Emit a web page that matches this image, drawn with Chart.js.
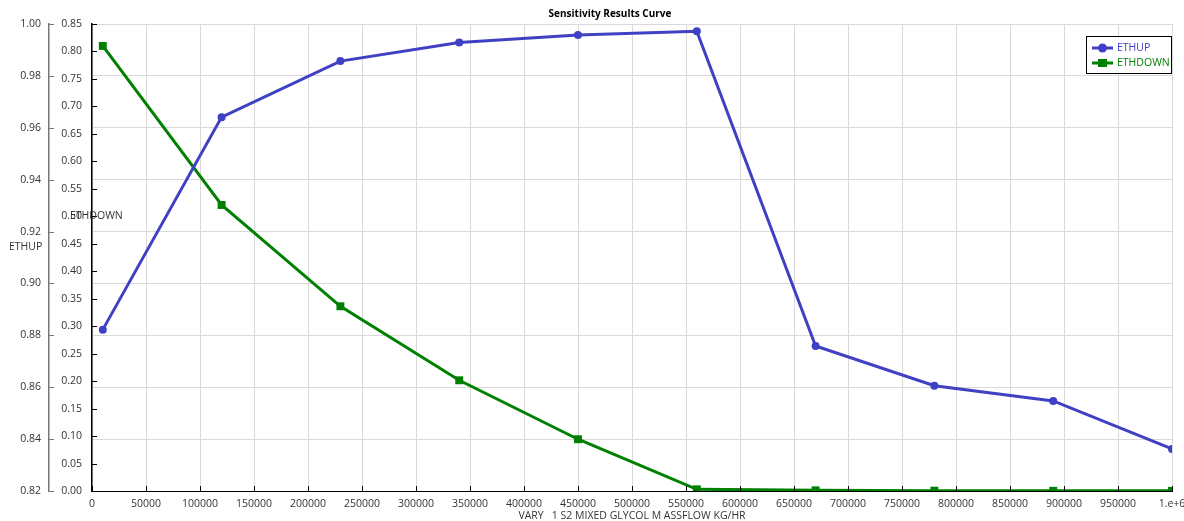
<!DOCTYPE html>
<html>
<head>
<meta charset="utf-8">
<title>Sensitivity Results Curve</title>
<script src="https://cdn.jsdelivr.net/npm/chart.js@4/dist/chart.umd.min.js"></script>
<style>
  html, body { margin: 0; padding: 0; background: #fff; }
  #wrap { width: 1184px; height: 521px; position: relative; }
</style>
</head>
<body>
<div id="wrap"><canvas id="c" width="1184" height="521"></canvas></div>
<script>
// Mass flow of the varied stream (kg/hr)
const flows = [10000, 120000, 230000, 340000, 450000, 560000, 670000, 780000, 890000, 1000000];
// Sensitivity results
const ethUp   = [0.8822, 0.9641, 0.9857, 0.9929, 0.9958, 0.9972, 0.8759, 0.8606, 0.8547, 0.8362];
const ethDown = [0.810, 0.5206, 0.3362, 0.2015, 0.0942, 0.0031, 0.0012, 0.0006, 0.0004, 0.0003];

// Axis ranges and tick steps
const xRange = [0, 1000000], xStep = 50000;
const upRange = [0.82, 1.00], upStep = 0.02;
const downRange = [0, 0.85], downStep = 0.05;

const titleText = 'Sensitivity Results Curve';
const xTitle = 'VARY   1 S2 MIXED GLYCOL M ASSFLOW KG/HR';
const seriesNames = ['ETHUP', 'ETHDOWN'];

const FONT = '"Open Sans", "Noto Sans", sans-serif';
const BLUE = '#4040C4';
const GREEN = '#008000';
const TXT = '#333333';

function pts(ys) { return flows.map((x, i) => ({ x: x, y: ys[i] })); }

// Extra drawing: inward tick marks, titles, and the boxed legend
const decor = {
  id: 'decor',
  afterDraw(chart) {
    const ctx = chart.ctx;
    const ca = chart.chartArea;
    const sx = chart.scales.x, su = chart.scales.yUp, sd = chart.scales.yDown;
    ctx.save();
    // tick marks pointing inward
    ctx.lineWidth = 1;
    ctx.strokeStyle = '#777';
    su.ticks.forEach(t => {
      const y = Math.round(su.getPixelForValue(t.value)) + 0.5;
      ctx.beginPath(); ctx.moveTo(su.right, y); ctx.lineTo(su.right + 5, y); ctx.stroke();
    });
    ctx.strokeStyle = '#000';
    sd.ticks.forEach(t => {
      const y = Math.round(sd.getPixelForValue(t.value)) + 0.5;
      ctx.beginPath(); ctx.moveTo(sd.right, y); ctx.lineTo(sd.right + 5, y); ctx.stroke();
    });
    sx.ticks.forEach(t => {
      const x = Math.round(sx.getPixelForValue(t.value)) + 0.5;
      ctx.beginPath(); ctx.moveTo(x, ca.bottom); ctx.lineTo(x, ca.bottom - 5); ctx.stroke();
    });

    // chart title
    ctx.fillStyle = '#000';
    ctx.font = 'bold 10px ' + FONT;
    ctx.textAlign = 'center';
    ctx.textBaseline = 'middle';
    ctx.fillText(titleText, 610, 14);

    // axis titles
    ctx.fillStyle = TXT;
    ctx.font = '10.5px ' + FONT;
    ctx.fillText(xTitle, (ca.left + ca.right) / 2, 516);
    ctx.textAlign = 'left';
    ctx.fillText(seriesNames[1], 70, 216);
    ctx.fillText(seriesNames[0], 9, 247);

    // legend box
    const lx = 1086, ly = 36, lw = 85, lh = 37;
    ctx.fillStyle = '#fff';
    ctx.fillRect(lx, ly, lw, lh);
    ctx.strokeStyle = '#000';
    ctx.lineWidth = 1;
    ctx.strokeRect(lx + 0.5, ly + 0.5, lw, lh);
    const rows = [
      { name: seriesNames[0], color: BLUE, y: 48, shape: 'circle' },
      { name: seriesNames[1], color: GREEN, y: 63, shape: 'rect' }
    ];
    rows.forEach(r => {
      ctx.strokeStyle = r.color;
      ctx.fillStyle = r.color;
      ctx.lineWidth = 3;
      ctx.beginPath(); ctx.moveTo(1092, r.y); ctx.lineTo(1113, r.y); ctx.stroke();
      if (r.shape === 'circle') {
        ctx.beginPath(); ctx.arc(1102.5, r.y, 4.5, 0, Math.PI * 2); ctx.fill();
      } else {
        ctx.fillRect(1098, r.y - 4, 9, 8);
      }
      ctx.font = '10.5px ' + FONT;
      ctx.textAlign = 'left';
      ctx.textBaseline = 'middle';
      ctx.fillText(r.name, 1117, r.y + 0.5);
    });
    ctx.restore();
  }
};

new Chart(document.getElementById('c'), {
  type: 'line',
  data: {
    datasets: [
      {
        label: seriesNames[0],
        data: pts(ethUp),
        yAxisID: 'yUp',
        borderColor: BLUE,
        backgroundColor: BLUE,
        borderWidth: 3,
        pointStyle: 'circle',
        pointRadius: 4,
        pointBorderWidth: 0,
        tension: 0,
        fill: false
      },
      {
        label: seriesNames[1],
        data: pts(ethDown),
        yAxisID: 'yDown',
        borderColor: GREEN,
        backgroundColor: GREEN,
        borderWidth: 3,
        pointStyle: 'rect',
        pointRadius: 5.6,
        pointBorderWidth: 0,
        tension: 0,
        fill: false
      }
    ]
  },
  options: {
    responsive: false,
    animation: false,
    layout: { padding: { top: 24, right: 12, left: 0, bottom: 0 } },
    plugins: {
      legend: { display: false },
      title: { display: false },
      tooltip: { enabled: false }
    },
    scales: {
      x: {
        type: 'linear',
        min: xRange[0], max: xRange[1],
        afterFit(s) { s.height = 30; s.paddingLeft = 0; s.paddingRight = 0; },
        ticks: {
          stepSize: xStep,
          autoSkip: false,
          maxRotation: 0,
          padding: 7,
          color: TXT,
          font: { family: FONT, size: 10.5 },
          callback: v => (v === 1000000 ? '1.e+6' : String(v))
        },
        grid: { color: '#d9d9d9', lineWidth: 1, drawTicks: false },
        border: { display: true, color: '#000', width: 1 }
      },
      yUp: {
        type: 'linear',
        position: 'left',
        weight: 1,
        min: upRange[0], max: upRange[1],
        afterFit(s) { s.width = 49; s.paddingTop = 0; s.paddingBottom = 0; },
        ticks: {
          stepSize: upStep,
          padding: 8,
          color: TXT,
          font: { family: FONT, size: 10.5 },
          callback: v => v.toFixed(2)
        },
        grid: { color: '#d9d9d9', lineWidth: 1, drawTicks: false },
        border: { display: true, color: '#777', width: 1.5 }
      },
      yDown: {
        type: 'linear',
        position: 'left',
        weight: 0,
        min: downRange[0], max: downRange[1],
        afterFit(s) { s.width = 43; s.paddingTop = 0; s.paddingBottom = 0; },
        ticks: {
          stepSize: downStep,
          padding: 10,
          color: TXT,
          font: { family: FONT, size: 10.5 },
          callback: v => v.toFixed(2)
        },
        grid: { display: false, drawTicks: false },
        border: { display: true, color: '#000', width: 1.5 }
      }
    }
  },
  plugins: [decor]
});
</script>
</body>
</html>
